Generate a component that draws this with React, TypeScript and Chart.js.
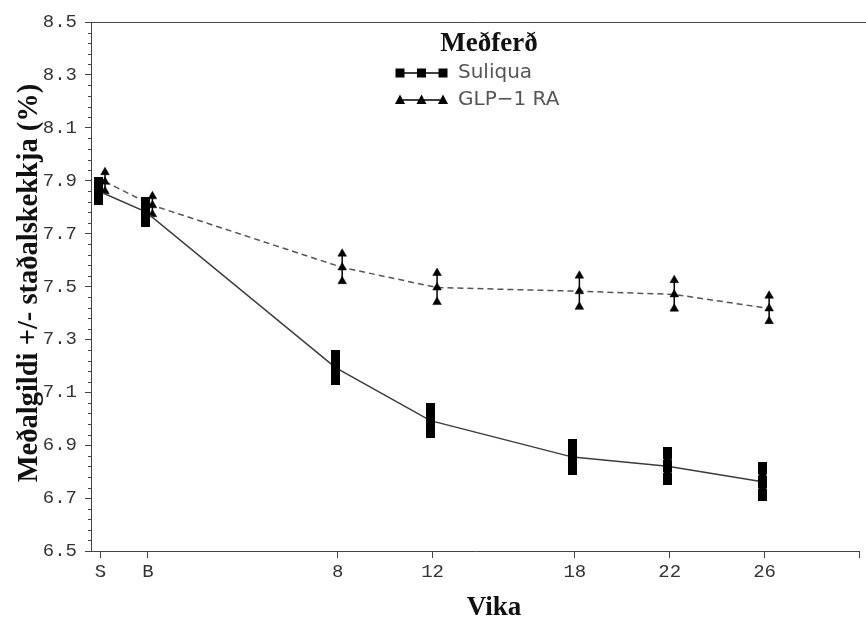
import React, { useEffect, useRef } from 'react';
import { Chart, registerables } from 'chart.js';

Chart.register(...registerables);

// ---- Data ----
const categories = ['S', 'B', '8', '12', '18', '22', '26'];
const weeks = [-2, 0, 8, 12, 18, 22, 26];
const suliquaMean = [7.861, 7.782, 7.193, 6.993, 6.855, 6.82, 6.762];
const suliquaSE = [0.031, 0.034, 0.043, 0.043, 0.045, 0.049, 0.05];
const glpMean = [7.896, 7.807, 7.572, 7.496, 7.482, 7.47, 7.417];
const glpSE = [0.036, 0.034, 0.052, 0.055, 0.059, 0.054, 0.048];
const xTickWeeks = [-2, 0, 8, 12, 18, 22, 26, 30];
const seriesNames = ['Suliqua', 'GLP\u22121 RA'];
const legendTitle = 'Meðferð';
const xTitle = 'Vika';
const yTitle = 'Meðalgildi +/- staðalskekkja (%)';
const yMin = 6.5;
const yMax = 8.5;
const yMajorStep = 0.2;
const yMinorStep = 0.04;

const OFFSET_SQ = -0.09;
const OFFSET_TR = 0.19;

function makeRectMarker(w: number, h: number) {
  const c = document.createElement('canvas');
  c.width = w;
  c.height = h;
  const g = c.getContext('2d')!;
  g.fillStyle = '#000';
  g.fillRect(0, 0, w, h);
  return c;
}

const series = [
  { name: seriesNames[0], mean: suliquaMean, se: suliquaSE, offset: OFFSET_SQ, style: 'rect', dash: [] as number[], lineColor: '#3c3c3c', barWidth: 8 },
  { name: seriesNames[1], mean: glpMean, se: glpSE, offset: OFFSET_TR, style: 'triangle', dash: [6, 4], lineColor: '#555555', barWidth: 1.5 },
];

const labelFor = (v: number) => {
  const i = weeks.indexOf(v);
  return i >= 0 ? categories[i] : '';
};

const errorBarPlugin = {
  id: 'errorBars',
  beforeDatasetsDraw(chart: any) {
    const { ctx, scales } = chart;
    const x = scales.x, y = scales.y;
    ctx.save();
    ctx.strokeStyle = '#000';
    series.forEach((s) => {
      ctx.lineWidth = s.barWidth;
      s.mean.forEach((m, i) => {
        const px = x.getPixelForValue(weeks[i] + s.offset);
        ctx.beginPath();
        ctx.moveTo(px, y.getPixelForValue(m + s.se[i]));
        ctx.lineTo(px, y.getPixelForValue(m - s.se[i]));
        ctx.stroke();
      });
    });
    ctx.restore();
  },
};

const decorPlugin = {
  id: 'decor',
  afterDraw(chart: any) {
    const { ctx, chartArea, scales } = chart;
    const y = scales.y;
    ctx.save();
    // top frame line
    ctx.strokeStyle = '#444';
    ctx.lineWidth = 1;
    ctx.beginPath();
    ctx.moveTo(chartArea.left, Math.round(chartArea.top) + 0.5);
    ctx.lineTo(chart.width, Math.round(chartArea.top) + 0.5);
    ctx.stroke();
    // minor y ticks
    const n = Math.round((yMax - yMin) / yMinorStep);
    for (let i = 0; i <= n; i++) {
      if (i % Math.round(yMajorStep / yMinorStep) === 0) continue;
      const py = Math.round(y.getPixelForValue(yMin + i * yMinorStep)) + 0.5;
      ctx.beginPath();
      ctx.moveTo(chartArea.left - 3, py);
      ctx.lineTo(chartArea.left, py);
      ctx.stroke();
    }
    // y title
    ctx.fillStyle = '#111';
    ctx.font = 'bold 28.5px "Liberation Serif"';
    ctx.textAlign = 'center';
    ctx.textBaseline = 'middle';
    ctx.translate(30, 283);
    ctx.rotate(-Math.PI / 2);
    ctx.fillText(yTitle, 0, 0);
    ctx.setTransform(1, 0, 0, 1, 0, 0);
    // x title
    ctx.font = 'bold 27px "Liberation Serif"';
    ctx.textBaseline = 'alphabetic';
    ctx.fillText(xTitle, 494, 615);
    // legend
    ctx.font = 'bold 27px "Liberation Serif"';
    ctx.textBaseline = 'middle';
    ctx.fillText(legendTitle, 489, 44);
    const rows = [73, 100];
    const mxs = [400, 421.5, 443];
    series.forEach((s, k) => {
      const cy = rows[k];
      ctx.strokeStyle = '#000';
      ctx.lineWidth = 1.5;
      ctx.setLineDash([]);
      ctx.beginPath();
      ctx.moveTo(mxs[0], cy);
      ctx.lineTo(mxs[2], cy);
      ctx.stroke();
      ctx.fillStyle = '#000';
      mxs.forEach((mx) => {
        ctx.beginPath();
        if (s.style === 'rect') {
          ctx.rect(mx - 4.5, cy - 4.5, 9, 9);
        } else {
          ctx.moveTo(mx, cy - 5.5);
          ctx.lineTo(mx + 5, cy + 4);
          ctx.lineTo(mx - 5, cy + 4);
          ctx.closePath();
        }
        ctx.fill();
      });
      ctx.fillStyle = '#555';
      ctx.font = '20px "DejaVu Sans"';
      ctx.textAlign = 'left';
      ctx.fillText(s.name, 458, cy);
      ctx.textAlign = 'center';
    });
    ctx.restore();
  },
};

export default function App() {
  const ref = useRef<HTMLCanvasElement | null>(null);
  useEffect(() => {
    if (!ref.current) return;
    const rectMarker = makeRectMarker(9, 12);
    const datasets: any[] = [];
    series.forEach((s) => {
      const common =
        s.style === 'rect'
          ? { pointStyle: rectMarker, pointRadius: 5 }
          : {
              pointStyle: 'triangle',
              pointRadius: 5,
              pointBackgroundColor: '#000',
              pointBorderColor: '#000',
              pointBorderWidth: 0.5,
            };
      datasets.push({
        label: s.name,
        data: s.mean.map((m, i) => ({ x: weeks[i] + s.offset, y: m })),
        showLine: true,
        borderColor: s.lineColor,
        borderWidth: 1.5,
        borderDash: s.dash,
        tension: 0,
        ...common,
      });
      datasets.push({
        label: s.name + ' +SE',
        data: s.mean.map((m, i) => ({ x: weeks[i] + s.offset, y: m + s.se[i] })),
        showLine: false,
        ...common,
      });
      datasets.push({
        label: s.name + ' -SE',
        data: s.mean.map((m, i) => ({ x: weeks[i] + s.offset, y: m - s.se[i] })),
        showLine: false,
        ...common,
      });
    });

    const chart = new Chart(ref.current, {
      type: 'scatter',
      data: { datasets },
      options: {
        animation: false,
        responsive: false,
        layout: { padding: { top: 22, right: 5, bottom: 0, left: 0 } },
        plugins: { legend: { display: false }, tooltip: { enabled: false } },
        scales: {
          x: {
            type: 'linear',
            min: -2.4,
            max: 30,
            afterBuildTicks: (s: any) => {
              s.ticks = xTickWeeks.map((v) => ({ value: v }));
            },
            afterFit: (s: any) => {
              s.height = 66;
            },
            ticks: {
              autoSkip: false,
              maxRotation: 0,
              padding: 3,
              color: '#333',
              font: { family: '"Liberation Mono"', size: 19 },
              callback: (v: any) => labelFor(Number(v)),
            },
            grid: { drawOnChartArea: false, drawTicks: true, tickLength: 7, color: '#444', lineWidth: 1 },
            border: { display: true, color: '#444', width: 1 },
          },
          y: {
            type: 'linear',
            min: yMin,
            max: yMax,
            afterFit: (s: any) => {
              s.width = 91;
            },
            ticks: {
              stepSize: yMajorStep,
              padding: 8,
              color: '#333',
              font: { family: '"Liberation Mono"', size: 19 },
              callback: (v: any) => Number(v).toFixed(1),
            },
            grid: { drawOnChartArea: false, drawTicks: true, tickLength: 6, color: '#444', lineWidth: 1 },
            border: { display: true, color: '#444', width: 1 },
          },
        },
      },
      plugins: [errorBarPlugin, decorPlugin],
    });
    return () => chart.destroy();
  }, []);

  return (
    <div style={{ position: 'fixed', left: 0, top: 0, width: 866, height: 617, background: '#fff' }}>
      <canvas ref={ref} width={866} height={617} style={{ display: 'block' }} />
    </div>
  );
}
